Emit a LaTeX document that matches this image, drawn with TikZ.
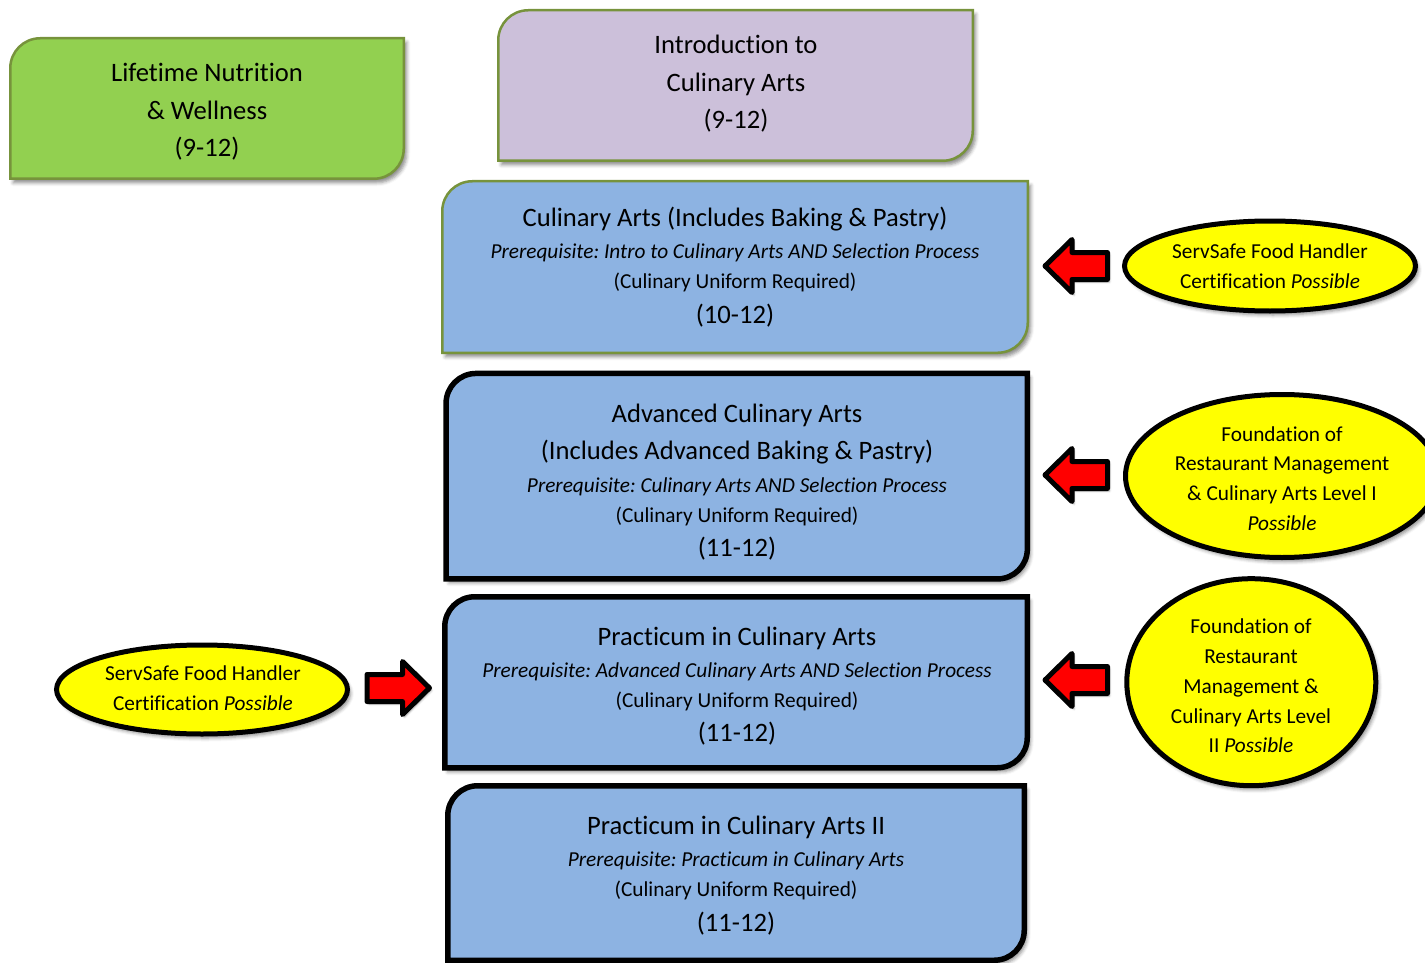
\documentclass[tikz,border=0pt]{standalone}
\usepackage{fontspec}
\setmainfont{Carlito}[Ligatures=NoCommon]
\frenchspacing
\usetikzlibrary{shapes.geometric,shadows.blur}

\definecolor{gfill}{HTML}{92D050}
\definecolor{gline}{HTML}{77933C}
\definecolor{pfill}{HTML}{CCC0DA}
\definecolor{bfill}{HTML}{8DB3E2}
\definecolor{yfill}{HTML}{FFFF00}
\definecolor{rfill}{HTML}{FF0000}

\tikzset{
  softshadow/.style={blur shadow={shadow xshift=3pt, shadow yshift=-4pt, shadow blur radius=3.5pt, shadow opacity=45}},
  frame/.style={rectangle, inner sep=0pt, outer sep=0pt, draw=none},
  greenline/.style={draw=gline, line width=2.5pt},
  blackline/.style={draw=black, line width=5.5pt},
  bigtxt/.style={font=\fontsize{26.6}{30}\selectfont, anchor=base, inner sep=0pt},
  smalltxt/.style={font=\fontsize{21.3}{26}\selectfont, anchor=base, inner sep=0pt},
  ittxt/.style={font=\fontsize{21.3}{26}\selectfont\itshape, anchor=base, inner sep=0pt},
  oval/.style={ellipse, draw=black, line width=5pt, fill=yfill, inner sep=0pt, softshadow},
  blockarrow/.style={draw=black, line width=5pt, fill=rfill, line join=round,
     blur shadow={shadow xshift=2pt, shadow yshift=-2.5pt, shadow blur radius=2pt, shadow opacity=35}}
}

% box with rounded top-left and bottom-right corners, drawn round a named frame node
\newcommand\snipbox[2]{%
  \draw[#2] (#1.south west) -- ([yshift=-30pt]#1.north west)
    .. controls ([yshift=-13.4pt]#1.north west) and ([xshift=13.4pt]#1.north west) .. ([xshift=30pt]#1.north west)
    -- (#1.north east) -- ([yshift=30pt]#1.south east)
    .. controls ([yshift=13.4pt]#1.south east) and ([xshift=-13.4pt]#1.south east) .. ([xshift=-30pt]#1.south east)
    -- cycle;}

% block arrow: #1,#2 = tip; #3 = +1 (points left) or -1 (points right)
\newcommand\blockarr[3]{%
  \draw[blockarrow] ({#1+#3*3},{#2}) -- ({#1+#3*30},{#2-26.5}) -- ({#1+#3*30},{#2-13.5})
    -- ({#1+#3*65.5},{#2-13.5}) -- ({#1+#3*65.5},{#2+13.5}) -- ({#1+#3*30},{#2+13.5})
    -- ({#1+#3*30},{#2+26.5}) -- cycle;}

\begin{document}
\begin{tikzpicture}[x=1pt,y=-1pt]
\useasboundingbox (0,0) rectangle (1425,963);

% ---------- boxes ----------
\node[frame, minimum width=393.5pt, minimum height=140.5pt] (green) at (207,108.5) {};
\snipbox{green}{greenline, fill=gfill, softshadow}
\node[frame, minimum width=474.5pt, minimum height=150.5pt] (intro) at (735.5,85.5) {};
\snipbox{intro}{greenline, fill=pfill, softshadow}
\node[frame, minimum width=585.5pt, minimum height=171.5pt] (ca) at (735,267) {};
\snipbox{ca}{greenline, fill=bfill, softshadow}
\node[frame, minimum width=581.3pt, minimum height=205.5pt] (adv) at (736.7,476.2) {};
\snipbox{adv}{blackline, fill=bfill, softshadow}
\node[frame, minimum width=582.5pt, minimum height=171pt] (prac) at (736,682.25) {};
\snipbox{prac}{blackline, fill=bfill, softshadow}
\node[frame, minimum width=576.5pt, minimum height=174.5pt] (prac2) at (736,873) {};
\snipbox{prac2}{blackline, fill=bfill, softshadow}

% ---------- box texts ----------
\node[bigtxt] (g1) at (207,81.5) {Lifetime Nutrition};
\node[bigtxt] (g2) at (207,119.5) {\& Wellness};
\node[bigtxt] (g3) at (207,156.5) {(9-12)};

\node[bigtxt] (i1) at (736,53.5) {Introduction to};
\node[bigtxt] (i2) at (736,91.5) {Culinary Arts};
\node[bigtxt] (i3) at (736,128.5) {(9-12)};

\node[bigtxt] (c1) at (735,226.5) {Culinary Arts (Includes Baking \& Pastry)};
\node[ittxt]  (c2) at (735,258) {Prerequisite: Intro to Culinary Arts AND Selection Process};
\node[smalltxt] (c3) at (735,288) {(Culinary Uniform Required)};
\node[bigtxt] (c4) at (735,323.5) {(10-12)};

\node[bigtxt] (a1) at (737,422.5) {Advanced Culinary Arts};
\node[bigtxt] (a2) at (737,459.5) {(Includes Advanced Baking \& Pastry)};
\node[ittxt]  (a3) at (737,492) {Prerequisite: Culinary Arts AND Selection Process};
\node[smalltxt] (a4) at (737,522) {(Culinary Uniform Required)};
\node[bigtxt] (a5) at (737,556.5) {(11-12)};

\node[bigtxt] (p1) at (737,645.5) {Practicum in Culinary Arts};
\node[ittxt]  (p2) at (737,677) {Prerequisite: Advanced Culinary Arts AND Selection Process};
\node[smalltxt] (p3) at (737,707) {(Culinary Uniform Required)};
\node[bigtxt] (p4) at (737,741.5) {(11-12)};

\node[bigtxt] (q1) at (736,834.5) {Practicum in Culinary Arts II};
\node[ittxt]  (q2) at (736,866) {Prerequisite: Practicum in Culinary Arts};
\node[smalltxt] (q3) at (736,896) {(Culinary Uniform Required)};
\node[bigtxt] (q4) at (736,931.5) {(11-12)};

% ---------- ovals ----------
\node[oval, minimum width=291pt, minimum height=90pt] (e1) at (1270,266) {};
\node[smalltxt] (e1a) at (1270,258) {ServSafe Food Handler};
\node[smalltxt] (e1b) at (1270,288) {Certification \textit{Possible}};

\node[oval, minimum width=313pt, minimum height=163pt] (e2) at (1282,476) {};
\node[smalltxt] (e2a) at (1282,441) {Foundation of};
\node[smalltxt] (e2b) at (1282,470.5) {Restaurant Management};
\node[smalltxt] (e2c) at (1282,500) {\& Culinary Arts Level I};
\node[smalltxt] (e2d) at (1282,530) {\textit{Possible}};

\node[oval, minimum width=249pt, minimum height=207pt] (e3) at (1251.3,682.2) {};
\node[smalltxt] (e3a) at (1251,633) {Foundation of};
\node[smalltxt] (e3b) at (1251,663) {Restaurant};
\node[smalltxt] (e3c) at (1251,693) {Management \&};
\node[smalltxt] (e3d) at (1251,723) {Culinary Arts Level};
\node[smalltxt] (e3e) at (1251,752) {II \textit{Possible}};

\node[oval, minimum width=291pt, minimum height=89pt] (e4) at (202,689.5) {};
\node[smalltxt] (e4a) at (203,680) {ServSafe Food Handler};
\node[smalltxt] (e4b) at (203,710) {Certification \textit{Possible}};

% ---------- block arrows ----------
\blockarr{1042}{266}{1}
\blockarr{1042}{475}{1}
\blockarr{1042}{680}{1}
\blockarr{432.5}{688}{-1}
\end{tikzpicture}
\end{document}
